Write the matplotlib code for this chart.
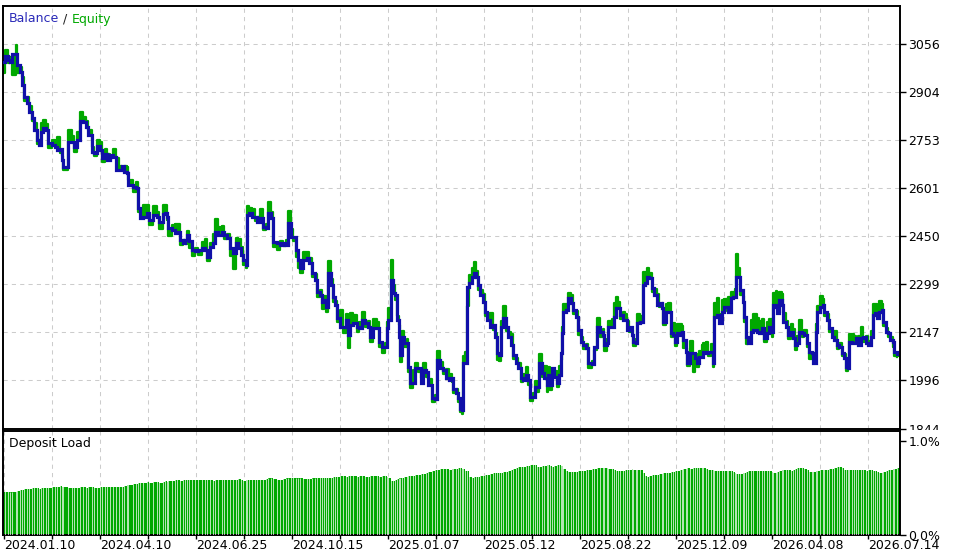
import numpy as np
import matplotlib
matplotlib.use("Agg")
import matplotlib.pyplot as plt
from matplotlib.transforms import Bbox, TransformedBbox

# deal number (x position on the tester chart)
deal_no = [
    3, 5, 8, 10, 12, 16, 17, 20, 22, 24,
    27, 29, 32, 34, 37, 39, 41, 43, 46, 48,
    52, 55, 57, 60, 62, 63, 68, 72, 74, 77,
    80, 83, 86, 88, 92, 94, 97, 100, 102, 105,
    107, 110, 113, 116, 119, 122, 124, 127, 128, 133,
    136, 138, 140, 143, 147, 149, 153, 157, 159, 163,
    165, 167, 168, 172, 175, 177, 180, 183, 185, 187,
    189, 192, 195, 198, 202, 205, 207, 210, 213, 215,
    218, 222, 224, 227, 230, 233, 236, 238, 241, 243,
    246, 247, 249, 252, 255, 257, 260, 263, 266, 268,
    271, 273, 277, 280, 283, 286, 288, 291, 293, 296,
    298,
    300, 303, 307, 309, 312, 315, 317, 320, 322, 324,
    326, 328, 331, 333, 335, 337, 340, 343, 346, 348,
    350, 353, 357, 359, 362, 365, 368, 370, 373, 377,
    379, 382, 385, 387, 388, 391, 393, 395, 397, 399,
    400, 402, 404, 407, 408, 410, 413, 415, 418, 421,
    423, 426, 428, 432, 435, 437, 440, 443, 446, 449,
    452, 453, 456, 458, 460, 462, 463, 465, 467, 469,
    472, 474, 476, 478, 480, 483, 485, 487, 490, 493,
    495, 497, 499, 501, 503, 506, 508, 511, 513, 516,
    518, 521, 523, 526, 528, 530, 533, 535, 537, 539,
    542, 544, 547, 548, 550, 552, 554, 557, 559, 561,
    562, 563, 566, 568, 571, 573, 576, 578, 581, 583,
    586, 588, 592, 594, 597,
    600, 603, 604, 607, 608, 612, 614, 616, 618, 620,
    623, 625, 627, 629, 632, 633, 636, 637, 640, 643,
    645, 647, 649, 652, 654, 657, 659, 662, 663, 666,
    668, 671, 673, 675, 677, 680, 682, 683, 686, 687,
    690, 693, 695, 697, 699, 702, 703, 706, 708, 711,
    713, 714, 717, 719, 722, 724, 727, 728, 731, 733,
    735, 736, 738, 740, 743, 744, 746, 748, 751, 753,
    757, 759, 762, 764, 767, 769, 772, 773, 776, 777,
    779, 782, 783, 786, 788, 791, 793, 795, 797, 799,
    802, 804, 807, 809, 812, 813, 816, 817, 820, 823,
    824, 827, 829, 832, 834, 837, 839, 842, 844, 846,
    848, 849, 852, 854, 856, 858, 861, 863, 866, 868,
    871, 873, 875, 877, 879, 882, 883, 886, 888, 890,
    893, 894, 897,
]

balance = [
    2999, 3018, 3006, 2999, 3025, 3025, 2990, 2968, 2927, 2889,
    2870, 2842, 2823, 2785, 2753, 2737, 2778, 2791, 2785, 2744,
    2737, 2731, 2722, 2725, 2690, 2668, 2747, 2747, 2731, 2753,
    2813, 2810, 2794, 2769, 2715, 2712, 2734, 2722, 2696, 2709,
    2690, 2706, 2700, 2658, 2658, 2671, 2652, 2649, 2611, 2605,
    2602, 2539, 2507, 2510, 2523, 2501, 2516, 2510, 2494, 2520,
    2523, 2510, 2475, 2469, 2460, 2463, 2438, 2428, 2438, 2453,
    2434, 2406, 2403, 2406, 2412, 2406, 2384, 2415, 2428, 2463,
    2453, 2463, 2453, 2444, 2412, 2397, 2428, 2412, 2390, 2374,
    2359, 2516, 2523, 2510, 2510, 2494, 2507, 2479, 2475, 2523,
    2507, 2431, 2428, 2422, 2428, 2422, 2491, 2447, 2447, 2406,
    2374,
    2349, 2374, 2381, 2365, 2333, 2311, 2273, 2264, 2242, 2248,
    2226, 2333, 2296, 2258, 2232, 2191, 2163, 2163, 2185, 2138,
    2169, 2176, 2163, 2160, 2185, 2176, 2163, 2131, 2160, 2160,
    2116, 2100, 2100, 2160, 2185, 2311, 2270, 2264, 2185, 2131,
    2075, 2131, 2112, 2112, 2037, 1989, 1989, 2034, 2034, 1989,
    2027, 2021, 1980, 1939, 1936, 2059, 2034, 2027, 2002, 1996,
    2002, 1970, 1955, 1939, 1907, 1901, 2049, 2049, 2289, 2302,
    2321, 2333, 2321, 2296, 2264, 2242, 2210, 2185, 2163, 2169,
    2131, 2081, 2075, 2163, 2191, 2163, 2131, 2106, 2075, 2052,
    2034, 2002, 1996, 2012, 1996, 1942, 1942, 1974, 1974, 2049,
    2018, 2002, 1980, 2012, 1980, 2034, 2005, 1986, 2012, 2081,
    2144, 2210, 2217, 2255, 2239, 2217, 2195, 2154, 2116, 2106,
    2097, 2049, 2046, 2100, 2163,
    2147, 2138, 2106, 2112, 2163, 2163, 2195, 2223, 2223, 2201,
    2185, 2185, 2154, 2163, 2138, 2116, 2112, 2176, 2179, 2296,
    2302, 2321, 2318, 2286, 2264, 2232, 2239, 2223, 2179, 2210,
    2210, 2144, 2138, 2116, 2144, 2138, 2147, 2122, 2084, 2052,
    2081, 2081, 2065, 2049, 2068, 2068, 2084, 2081, 2084, 2084,
    2052, 2195, 2201, 2176, 2210, 2226, 2226, 2210, 2255, 2258,
    2258, 2321, 2321, 2280, 2242, 2195, 2131, 2112, 2147, 2154,
    2147, 2144, 2160, 2128, 2144, 2163, 2147, 2232, 2226, 2207,
    2248, 2232, 2179, 2163, 2138, 2147, 2128, 2106, 2112, 2147,
    2144, 2138, 2112, 2084, 2081, 2049, 2147, 2210, 2226, 2232,
    2210, 2185, 2160, 2131, 2122, 2106, 2100, 2081, 2065, 2037,
    2034, 2116, 2112, 2112, 2128, 2106, 2128, 2131, 2112, 2106,
    2131, 2201, 2207, 2191, 2210, 2217, 2179, 2147, 2144, 2122,
    2116, 2084, 2078,
]

# how far equity swings away from balance while trades are open
equity_swing = [
    -35, 20, -10, 15, -65, 28, -25, 15, 25, -12,
    20, 18, -10, 22, -12, 15, 30, 25, 20, -15,
    15, 20, 40, -12, 12, -10, 38, 20, -15, 25,
    28, 15, 20, 15, 18, -10, 20, 25, -12, 15,
    20, -10, 25, 40, 15, -10, 18, 20, 15, -15,
    20, -12, 25, 40, 25, -15, 30, 15, -20, 28,
    25, -10, -25, 15, 30, 25, -15, 10, -12, 15,
    -20, -18, 10, -15, 20, 35, -12, 15, 30, 40,
    25, 20, -10, 12, -25, -50, 18, 30, 25, -15,
    -10, 30, 15, 25, -12, 18, 28, -10, 15, 35,
    20, -15, -20, 12, -10, 15, 40, 25, -12, -20,
    -25,
    -15, 25, 20, 15, -12, 20, -15, 18, -20, 15,
    -15, 38, 20, -15, 15, -12, 55, -18, 20, -40,
    38, 25, -15, 20, 25, -12, 20, -15, 30, 20,
    -15, -18, 12, 20, 40, 65, 25, -15, 15, 40,
    -20, 20, -12, 15, -15, -18, 40, 15, -12, 15,
    25, -15, 20, -12, 15, 30, 20, -10, 30, 20,
    -12, -15, 15, -10, -12, -10, 25, 35, -60, 25,
    30, 35, 20, -15, 18, 25, -12, 20, 45, -15,
    15, -20, -18, 20, 40, -12, 18, 35, -12, 15,
    18, -12, 20, 25, -15, -10, 15, 20, -15, 30,
    -12, 40, -20, 25, -15, -30, 20, -12, 30, -20,
    20, 25, 20, 15, 25, -12, 20, -15, 15, -10,
    12, -15, 12, -10, 30,
    -15, 20, -18, 15, 20, 25, 45, 35, 20, -12,
    25, 20, 30, -15, 15, -12, 15, 30, 20, 40,
    35, 30, 15, -12, 20, 35, -12, 18, -10, 25,
    30, -12, 40, -12, 30, 35, 20, -25, 15, -12,
    40, -60, 15, -12, 20, 40, 30, 35, -12, 25,
    -15, 45, 55, 30, 40, 25, -12, 50, 20, 15,
    25, 72, 30, -15, 20, -15, -20, 15, 40, 50,
    45, 40, 30, -12, 35, 25, -15, 40, 50, 20,
    25, 35, 30, 20, -12, 25, 30, -15, 25, 40,
    -12, 15, -12, -20, -15, 15, 25, 20, 35, 20,
    -12, 20, -12, 15, 30, -12, 15, -10, 15, -12,
    12, 25, 30, 25, -12, 30, 35, -15, 25, 15,
    20, 35, 30, 25, 35, 20, -12, 15, -12, 12,
    -15, -10, -10,
]

# deposit load, percent
deposit_load = [
    0.46, 0.46, 0.45, 0.45, 0.45, 0.46, 0.47, 0.48, 0.48, 0.49,
    0.49, 0.49, 0.50, 0.50, 0.50, 0.49, 0.50, 0.50, 0.50, 0.50,
    0.51, 0.51, 0.51, 0.52, 0.51, 0.51, 0.50, 0.50, 0.50, 0.50,
    0.51, 0.51, 0.50, 0.51, 0.51, 0.50, 0.50, 0.51, 0.51, 0.51,
    0.51, 0.51, 0.51, 0.51, 0.51, 0.51, 0.52, 0.53, 0.53, 0.54,
    0.54, 0.55, 0.55, 0.55, 0.56, 0.55, 0.56, 0.56, 0.55, 0.56,
    0.57, 0.56, 0.57, 0.57, 0.58, 0.58, 0.57, 0.58, 0.58, 0.58,
    0.58, 0.58, 0.58, 0.58, 0.58, 0.58, 0.58, 0.58, 0.57, 0.58,
    0.58, 0.58, 0.58, 0.58, 0.58, 0.58, 0.58, 0.59, 0.58, 0.57,
    0.58, 0.58, 0.58, 0.58, 0.58, 0.58, 0.58, 0.58, 0.59, 0.60,
    0.60, 0.59, 0.58, 0.58, 0.59, 0.60, 0.60, 0.61, 0.60, 0.60,
    0.60,
    0.60, 0.59, 0.59, 0.59, 0.60, 0.60, 0.61, 0.61, 0.60, 0.61,
    0.60, 0.61, 0.61, 0.62, 0.62, 0.62, 0.63, 0.63, 0.62, 0.63,
    0.63, 0.63, 0.62, 0.63, 0.63, 0.62, 0.62, 0.63, 0.63, 0.63,
    0.62, 0.63, 0.63, 0.62, 0.60, 0.57, 0.57, 0.58, 0.59, 0.60,
    0.60, 0.61, 0.62, 0.62, 0.63, 0.63, 0.63, 0.64, 0.64, 0.65,
    0.65, 0.66, 0.67, 0.68, 0.69, 0.69, 0.70, 0.70, 0.70, 0.69,
    0.70, 0.70, 0.70, 0.71, 0.71, 0.70, 0.70, 0.68, 0.68, 0.62,
    0.61, 0.62, 0.62, 0.62, 0.63, 0.63, 0.64, 0.64, 0.65, 0.66,
    0.66, 0.66, 0.66, 0.66, 0.67, 0.67, 0.68, 0.69, 0.70, 0.71,
    0.72, 0.72, 0.72, 0.73, 0.73, 0.74, 0.74, 0.74, 0.72, 0.72,
    0.73, 0.73, 0.74, 0.74, 0.73, 0.72, 0.73, 0.74, 0.74, 0.73,
    0.73, 0.70, 0.68, 0.67, 0.67, 0.67, 0.67, 0.68, 0.68, 0.68,
    0.69, 0.69, 0.70, 0.70, 0.71,
    0.71, 0.71, 0.71, 0.71, 0.70, 0.70, 0.69, 0.68, 0.68, 0.68,
    0.68, 0.69, 0.69, 0.69, 0.70, 0.69, 0.69, 0.69, 0.69, 0.66,
    0.63, 0.62, 0.63, 0.64, 0.64, 0.64, 0.65, 0.65, 0.66, 0.66,
    0.66, 0.67, 0.67, 0.68, 0.68, 0.69, 0.69, 0.70, 0.70, 0.71,
    0.70, 0.71, 0.71, 0.71, 0.71, 0.71, 0.71, 0.70, 0.69, 0.69,
    0.69, 0.68, 0.68, 0.68, 0.68, 0.68, 0.68, 0.68, 0.68, 0.67,
    0.66, 0.65, 0.65, 0.65, 0.66, 0.66, 0.67, 0.68, 0.68, 0.68,
    0.68, 0.68, 0.68, 0.68, 0.68, 0.68, 0.67, 0.66, 0.66, 0.67,
    0.68, 0.69, 0.69, 0.69, 0.69, 0.68, 0.69, 0.70, 0.71, 0.71,
    0.71, 0.70, 0.69, 0.67, 0.67, 0.67, 0.68, 0.68, 0.69, 0.69,
    0.69, 0.69, 0.70, 0.70, 0.71, 0.72, 0.72, 0.71, 0.69, 0.69,
    0.69, 0.69, 0.69, 0.69, 0.69, 0.69, 0.69, 0.69, 0.68, 0.69,
    0.69, 0.68, 0.68, 0.67, 0.66, 0.66, 0.67, 0.68, 0.69, 0.69,
    0.70, 0.70, 0.71,
]

balance_ticks = [1844, 1996, 2147, 2299, 2450, 2601, 2753, 2904, 3056]
date_labels = ["2024.01.10", "2024.04.10", "2024.06.25", "2024.10.15", "2025.01.07",
               "2025.05.12", "2025.08.22", "2025.12.09", "2026.04.08", "2026.07.14"]

BLUE = "#1010a8"
GREEN = "#00a800"
GRID = "#cccccc"

n = min(len(deal_no), len(balance), len(equity_swing), len(deposit_load))
x = np.array(deal_no[:n], dtype=float)
bal = np.array(balance[:n], dtype=float)
eq = bal + np.array(equity_swing[:n], dtype=float)
load = np.array(deposit_load[:n], dtype=float)

plt.rcParams["font.family"] = ["DejaVu Sans"]

W, H = 957, 553
fig = plt.figure(figsize=(W / 100, H / 100), dpi=100)
fig.patch.set_facecolor("white")

ax = fig.add_axes([3 / W, (H - 428.5) / H, 897 / W, (428.5 - 6) / H])
ax2 = fig.add_axes([3 / W, (H - 534.5) / H, 897 / W, (534.5 - 431) / H])

grid_x = np.arange(52, 900, 48)
label_x = np.arange(4, 900, 96)

for a in (ax, ax2):
    a.set_xlim(3, 900)
    for s in a.spines.values():
        s.set_linewidth(1.4)
        s.set_color("black")
    a.set_axisbelow(True)

# main panel
ax.set_ylim(1844, 3176)
ax.yaxis.tick_right()
ax.set_yticks(balance_ticks)
ax.set_yticklabels([str(v) for v in balance_ticks])
ax.tick_params(axis="y", direction="out", length=4, width=1, pad=2, labelsize=9)
ax.set_xticks(grid_x)
ax.tick_params(axis="x", length=0, labelbottom=False)
ax.grid(True, color=GRID, linewidth=0.75, linestyle=(0, (4, 4)))

# equity excursions as filled strips over each balance step, balance on top
step_w = np.diff(x, append=x[-1] + 3)
ax.bar(x, eq - bal, bottom=bal, width=step_w, align="edge", color=GREEN,
       linewidth=0, antialiased=False, zorder=2)
ax.plot(x, eq, drawstyle="steps-post", color=GREEN, linewidth=1.6, zorder=2)
ax.plot(x, bal, drawstyle="steps-post", color=BLUE, linewidth=2.3, zorder=3,
        solid_joinstyle="miter")

# clip the bottom tick label behind the lower panel
clip = TransformedBbox(Bbox([[0, (H - 430) / H], [1, 1]]), fig.transFigure)
for lab in ax.get_yticklabels():
    lab.set_clip_box(clip)
    lab.set_clip_on(True)

t1 = ax.text(9 / W, 1 - 19 / H, "Balance", transform=fig.transFigure,
             color="#2a2ab8", fontsize=9, va="center")
t2 = ax.annotate(" / ", xy=(1, 0), xycoords=t1, va="bottom", fontsize=9, color="#202020")
ax.annotate("Equity", xy=(1, 0), xycoords=t2, va="bottom", fontsize=9, color=GREEN)

# deposit load panel: a step fill cut by thin white separators at each deal
x_edge = np.append(x, x[-1] + 3)
ax2.stairs(load, x_edge, fill=True, color=GREEN, linewidth=0, zorder=2)
ax2.vlines(x[1:], 0, np.maximum(load[:-1], load[1:]) + 0.01, colors="white",
           linewidth=0.5, zorder=3)
ax2.set_ylim(0, 1.108)
ax2.yaxis.tick_right()
ax2.set_yticks([0.0, 1.0])
ax2.set_yticklabels(["0.0%", "1.0%"])
ax2.tick_params(axis="y", direction="out", length=4, width=1, pad=2, labelsize=9)
ax2.set_xticks(label_x)
ax2.set_xticklabels(date_labels, ha="left")
ax2.set_xticks(np.arange(52, 900, 96), minor=True)
ax2.tick_params(axis="x", which="both", direction="out", length=3, width=1,
                pad=0.5, labelsize=9)
ax2.grid(True, which="both", axis="x", color=GRID, linewidth=0.75,
         linestyle=(0, (4, 4)))
ax2.text(9 / W, 1 - 444 / H, "Deposit Load", transform=fig.transFigure,
         fontsize=9, va="center", color="black")

fig.savefig("out.png", dpi=100, facecolor="white")
